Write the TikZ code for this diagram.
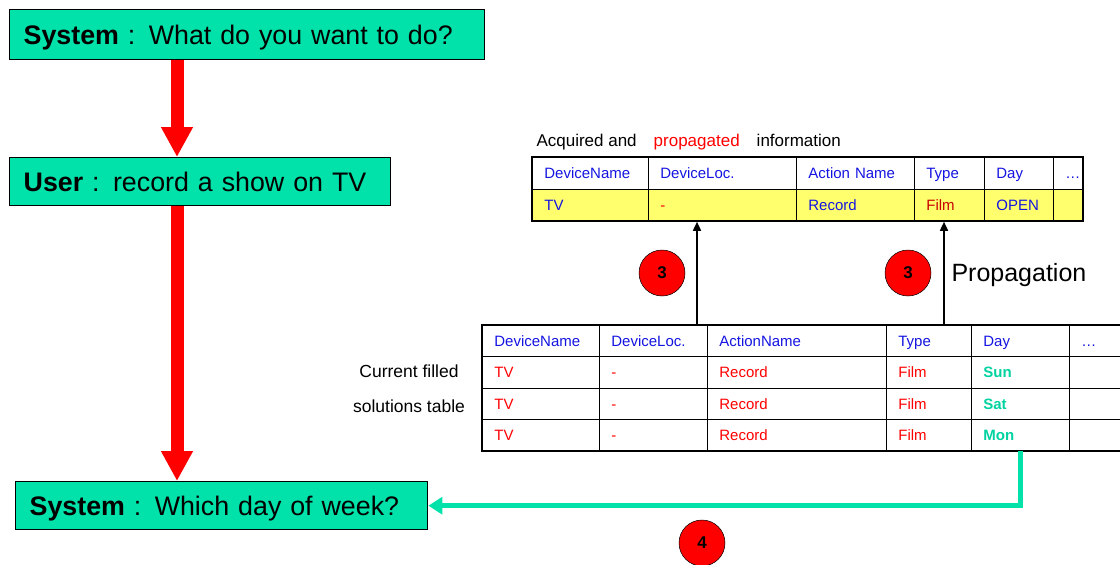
\documentclass[tikz,border=0pt]{standalone}
\usepackage{fontspec}
\setmainfont{Liberation Sans}
\usetikzlibrary{arrows.meta,fit,positioning}

\definecolor{mint}{RGB}{0,226,170}
\definecolor{hdblue}{RGB}{20,20,225}
\definecolor{filmred}{RGB}{200,0,0}
\definecolor{rowyellow}{RGB}{255,255,110}
\definecolor{daygreen}{RGB}{0,210,160}

\tikzset{
  dialog/.style={draw, line width=1.4pt, fill=mint, anchor=north west,
    inner xsep=14pt, inner ysep=0pt, align=left, text height=19.3pt, text depth=0pt,
    font=\fontsize{26.8}{30}\selectfont},
  cell/.style={draw, line width=0.7pt, anchor=north west, inner xsep=12pt,
    inner ysep=0pt, align=left, text height=10.7pt, text depth=0pt,
    font=\fontsize{15}{17}\selectfont},
  frame/.style={draw, line width=2.2pt, inner sep=0pt},
  flow/.style={draw=red, line width=13pt, -{Triangle[width=30pt,length=30pt]}},
  prop/.style={draw=black, line width=1.6pt, -{Triangle[width=8pt,length=9pt]}},
  answer/.style={draw=mint, line width=5pt, -{Triangle[width=17pt,length=14pt]}},
  badge/.style={circle, draw, line width=0.5pt, fill=red, minimum size=46pt,
    inner sep=0pt, font=\bfseries\fontsize{17}{19}\selectfont}
}

\begin{document}
\begin{tikzpicture}[x=1pt, y=-1pt]
  \useasboundingbox (0,0) rectangle (1120,565);

  % Dialog
  \node[dialog, text width=447pt, minimum height=50pt] (sys1) at (9,9)
    {\textbf{System} : What do you want to do?};
  \node[dialog, text width=353pt, minimum height=48pt] (usr) at (9,157)
    {\textbf{User} : record a show on TV};
  \node[dialog, text width=384pt, minimum height=48pt] (sys3) at (15,481)
    {\textbf{System} : Which day of week?};

  \coordinate (spine) at (177,0);
  \draw[flow] (sys1.south -| spine) -- (usr.north -| spine);
  \draw[flow] (usr.south -| spine) -- (sys3.north -| spine);

  % Acquired and propagated information
  \node[anchor=west, font=\fontsize{17}{19}\selectfont] (acqlabel) at (533,142)
    {Acquired and\hspace{17pt}\textcolor{red}{propagated}\hspace{17pt}information};
  \foreach \xa/\xb/\txt [count=\i] in {532/648/DeviceName, 648/796/DeviceLoc.,
      796/914/Action Name, 914/984/Type, 984/1053/Day, 1053/1082/\ldots}{
    \pgfmathsetmacro\tw{\xb-\xa-24}
    \node[cell, text width=\tw pt, minimum height=32, text=hdblue] (h\i) at (\xa,157) {\txt};
  }
  \foreach \xa/\xb/\txt/\col [count=\i] in {532/648/TV/hdblue, 648/796/-/red,
      796/914/Record/hdblue, 914/984/Film/filmred, 984/1053/OPEN/hdblue, 1053/1082/{}/hdblue}{
    \pgfmathsetmacro\tw{\xb-\xa-24}
    \node[cell, fill=rowyellow, text width=\tw pt, minimum height=31, text=\col] (d\i) at (\xa,189) {\txt};
  }
  \node[frame, fit=(h1)(d6)] (acq) {};

  % Current filled solutions table
  \node[align=center, font=\fontsize{17.5}{35}\selectfont] (sollabel) at (409,389)
    {Current filled\\solutions table};
  \foreach \xa/\xb/\txt [count=\i] in {482/599/DeviceName, 599/707/DeviceLoc.,
      707/886/ActionName, 886/971/Type, 971/1069/Day, 1069/1135/\ldots}{
    \pgfmathsetmacro\tw{\xb-\xa-24}
    \node[cell, text width=\tw pt, minimum height=31, text=hdblue] (s0-\i) at (\xa,325) {\txt};
  }
  \foreach \y/\h/\dname [count=\r] in {356/32/Sun, 388/31/Sat, 419/31/Mon}{
    \foreach \xa/\xb/\txt/\col [count=\i] in {482/599/TV/red, 599/707/-/red,
        707/886/Record/red, 886/971/Film/red, 971/1069/{\textbf{\dname}}/daygreen,
        1069/1135/{}/red}{
      \pgfmathsetmacro\tw{\xb-\xa-24}
      \node[cell, text width=\tw pt, minimum height=\h, text=\col] (s\r-\i) at (\xa,\y) {\txt};
    }
  }
  \node[frame, fit=(s0-1)(s3-6)] (sol) {};

  % Propagation
  \coordinate (pa) at (697,0);
  \coordinate (pb) at (944,0);
  \draw[prop] (sol.north -| pa) -- (acq.south -| pa);
  \draw[prop] (sol.north -| pb) -- (acq.south -| pb);
  \node[badge] (b3a) at (662,273) {3};
  \node[badge] (b3b) at (908,273) {3};
  \node[anchor=west, font=\fontsize{25}{27}\selectfont] (proplabel) at (948,275) {Propagation};

  % Answer back to the dialog
  \draw[answer] (s3-5.south) |- (sys3.east);
  \node[badge] (b4) at (702,543) {4};
\end{tikzpicture}
\end{document}
